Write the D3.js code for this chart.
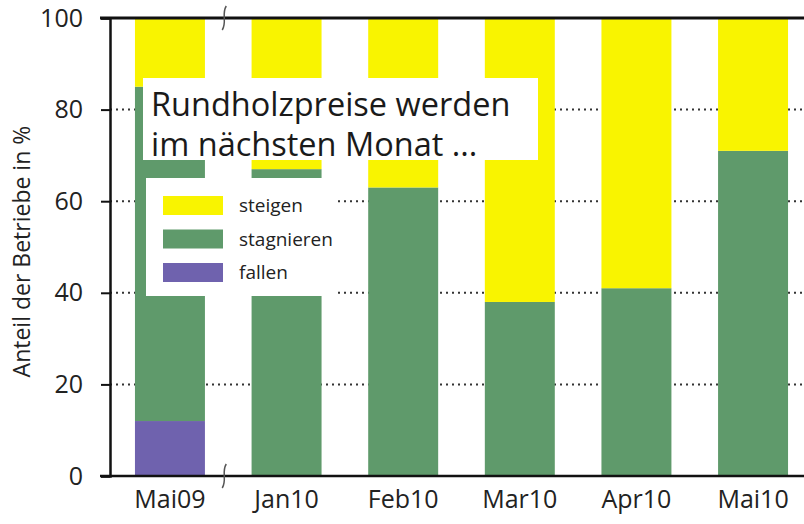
<!DOCTYPE html>
<html>
<head>
<meta charset="utf-8">
<script src="https://cdn.jsdelivr.net/npm/d3@7"></script>
<style>
  body { margin: 0; background: #fff; }
  svg { display: block; }
  svg text { font-family: "Open Sans", "Noto Sans", sans-serif; }
</style>
</head>
<body>
<div id="canvas"></div>
<script>
(function(d3){

  // data (share of firms in %)
  var months = ['Mai09', 'Jan10', 'Feb10', 'Mar10', 'Apr10', 'Mai10'],
      fallen = [12, 0, 0, 0, 0, 0],
      stagnieren = [73, 67, 63, 38, 41, 71],
      steigen = [15, 33, 37, 62, 59, 29],
      yTicks = [0, 20, 40, 60, 80, 100],
      seriesNames = ['fallen', 'stagnieren', 'steigen'],
      seriesLabels = {fallen: 'fallen', stagnieren: 'stagnieren', steigen: 'steigen'},
      colors = {fallen: '#6f62ae', stagnieren: '#5f9a6b', steigen: '#f9f400'};

  var canvas_d = {width: 804, height: 524},
      margin = {top: 18, right: 0, bottom: 48, left: 110};

  var table = months.map(function(m, i) {
    return {month: m, fallen: fallen[i], stagnieren: stagnieren[i], steigen: steigen[i]};
  });
  var stacked = d3.stack().keys(seriesNames)(table);

  var canvas = d3.select('#canvas').append('svg')
      .attr('width', canvas_d.width)
      .attr('height', canvas_d.height);

  var x = d3.scaleBand()
      .domain(months)
      .range([margin.left, 813])
      .paddingInner(0.4)
      .paddingOuter(0.214);

  var y = d3.scaleLinear()
      .domain([0, 100])
      .range([canvas_d.height - margin.bottom, margin.top]);

  // dotted grid lines (behind bars)
  canvas.append('g').selectAll('line')
      .data([20, 40, 60, 80])
    .enter().append('line')
      .attr('x1', margin.left)
      .attr('x2', canvas_d.width)
      .attr('y1', function(d){ return y(d); })
      .attr('y2', function(d){ return y(d); })
      .attr('stroke', '#333')
      .attr('stroke-width', 2)
      .attr('stroke-dasharray', '2,4');

  // stacked bars
  canvas.append('g').selectAll('g')
      .data(stacked)
    .enter().append('g')
      .attr('fill', function(s){ return colors[s.key]; })
    .selectAll('rect')
      .data(function(s){ return s; })
    .enter().append('rect')
      .attr('x', function(d){ return x(d.data.month); })
      .attr('width', x.bandwidth())
      .attr('y', function(d){ return y(d[1]); })
      .attr('height', function(d){ return y(d[0]) - y(d[1]); });

  // y axis
  var yAxis = canvas.append('g')
      .attr('transform', 'translate(' + margin.left + ',0)')
      .call(d3.axisLeft(y).tickValues(yTicks).tickSize(9).tickPadding(18));
  yAxis.attr('font-family', null);
  yAxis.select('.domain').attr('stroke', '#111').attr('stroke-width', 2.5);
  yAxis.selectAll('.tick line').attr('stroke', '#111').attr('stroke-width', 2);
  yAxis.selectAll('.tick text').attr('font-size', 25).attr('fill', '#222');

  // x axis
  var xAxis = canvas.append('g')
      .attr('transform', 'translate(0,' + y(0) + ')')
      .call(d3.axisBottom(x).tickSize(0).tickPadding(14));
  xAxis.attr('font-family', null);
  xAxis.select('.domain').remove();
  xAxis.selectAll('.tick text').attr('font-size', 25).attr('fill', '#222');
  canvas.append('line')
      .attr('x1', margin.left - 10).attr('x2', canvas_d.width)
      .attr('y1', y(0)).attr('y2', y(0))
      .attr('stroke', '#111').attr('stroke-width', 2.5);

  // top line at 100
  canvas.append('line')
      .attr('x1', margin.left - 10).attr('x2', canvas_d.width)
      .attr('y1', y(100)).attr('y2', y(100))
      .attr('stroke', '#111').attr('stroke-width', 3);

  // axis break marks between Mai09 and Jan10
  var breakX = (x('Mai09') + x.bandwidth() + x('Jan10')) / 2 - 4;
  [y(100), y(0)].forEach(function(yy) {
    canvas.append('path')
        .attr('d', 'M' + (breakX + 2) + ',' + (yy - 12) + ' C' + (breakX - 3) + ',' + (yy - 4) + ' ' + (breakX + 3) + ',' + (yy + 4) + ' ' + (breakX - 2) + ',' + (yy + 12))
        .attr('fill', 'none')
        .attr('stroke', '#555')
        .attr('stroke-width', 1.5);
  });

  // y label
  canvas.append('text')
      .attr('transform', 'translate(30,' + (y(49)) + ') rotate(-90)')
      .attr('text-anchor', 'middle')
      .attr('font-size', 23)
      .attr('fill', '#222')
      .text('Anteil der Betriebe in %');

  // title box
  canvas.append('rect')
      .attr('x', 143).attr('y', 78)
      .attr('width', 395).attr('height', 82)
      .attr('fill', '#fff');
  canvas.append('text')
      .attr('x', 151).attr('y', 116)
      .attr('font-size', 32.5)
      .attr('fill', '#1a1a1a')
      .text('Rundholzpreise werden');
  canvas.append('text')
      .attr('x', 151).attr('y', 156)
      .attr('font-size', 32.5)
      .attr('fill', '#1a1a1a')
      .text('im nächsten Monat ...');

  // legend
  canvas.append('rect')
      .attr('x', 146).attr('y', 178)
      .attr('width', 190).attr('height', 118)
      .attr('fill', '#fff');
  var legend = canvas.append('g').selectAll('g')
      .data(seriesNames.slice().reverse())
    .enter().append('g')
      .attr('transform', function(d, i){ return 'translate(163,' + (196 + i * 33.5) + ')'; });
  legend.append('rect')
      .attr('width', 60).attr('height', 19)
      .attr('fill', function(d){ return colors[d]; });
  legend.append('text')
      .attr('x', 76).attr('y', 16)
      .attr('font-size', 19)
      .attr('fill', '#222')
      .text(function(d){ return seriesLabels[d]; });

})(d3);
</script>
</body>
</html>
